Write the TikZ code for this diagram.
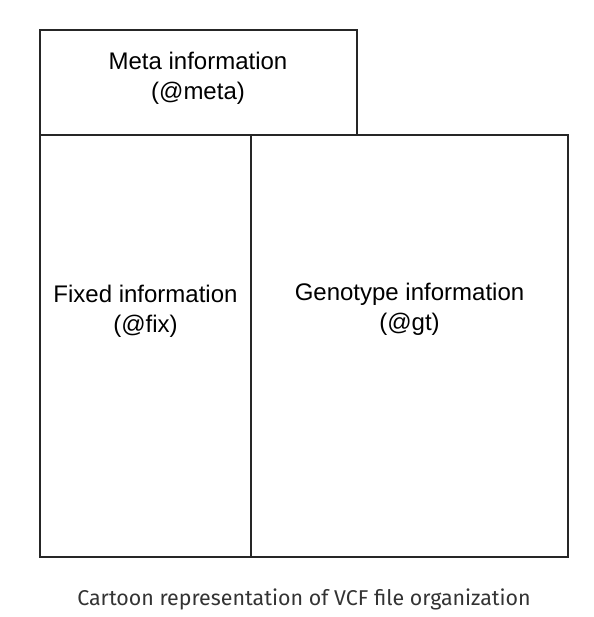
\documentclass[tikz,border=0pt]{standalone}
\usepackage{fontspec}
\setmainfont{Liberation Sans}
\newfontfamily\captionfont{Fira Sans}
\usepackage{tikz}

\begin{document}
\begin{tikzpicture}[x=1pt,y=-1pt,
    part/.style={draw=black!85, line width=1.1pt},
    label/.style={align=center, font=\fontsize{24}{30}\selectfont}]
  \useasboundingbox (0,0) rectangle (593,617);
  % the three parts of the file
  \draw[part] (40,30) rectangle (357,135);
  \draw[part] (40,135) rectangle (251,557);
  \draw[part] (251,135) rectangle (568,557);
  \node[label] (meta) at (198,78.5) {Meta information\\(@meta)};
  \node[label] (fix) at (145.5,311.5) {Fixed information\\(@fix)};
  \node[label] (gt) at (409.5,309) {Genotype information\\(@gt)};
  \node[font=\captionfont\fontsize{21.4}{24}\selectfont, text=black!80] (caption) at (304,599)
    {Cartoon representation of VCF file organization};
\end{tikzpicture}
\end{document}
